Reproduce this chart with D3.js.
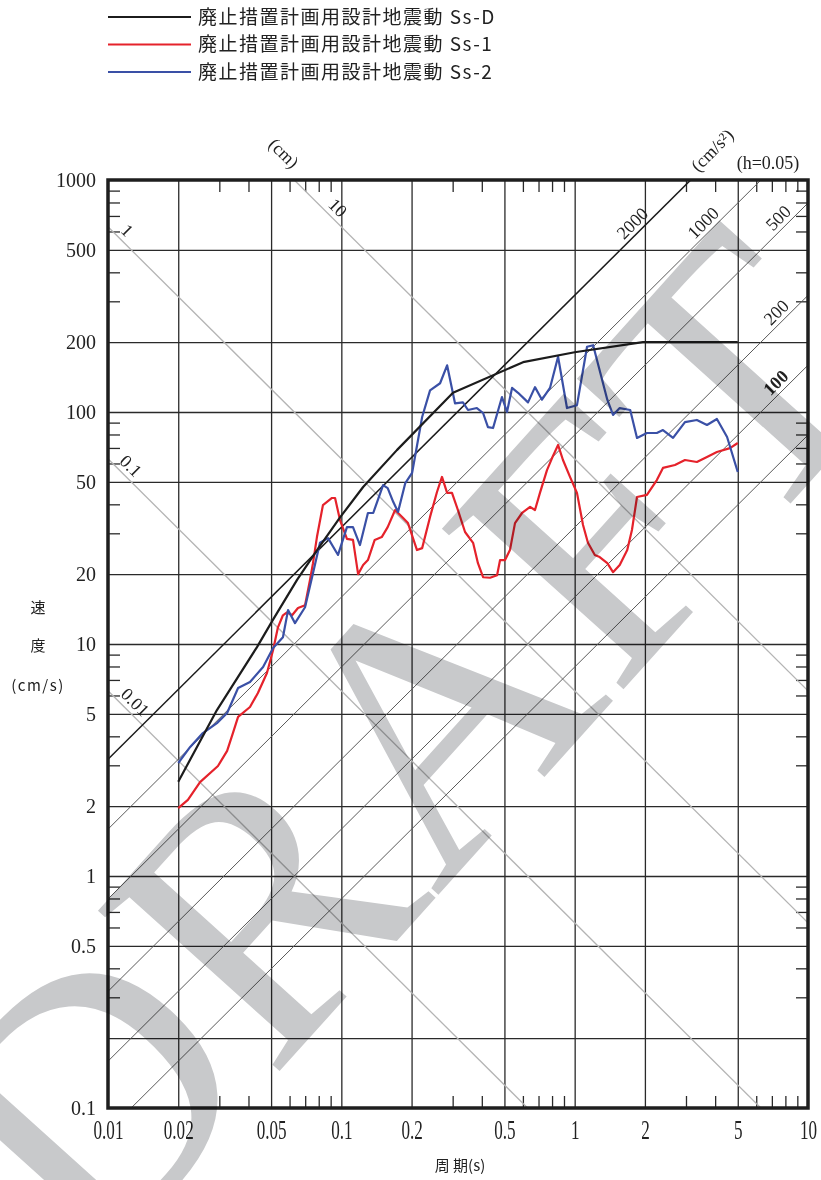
<!DOCTYPE html>
<html>
<head>
<meta charset="utf-8">
<script src="https://cdn.jsdelivr.net/npm/d3@7"></script>
<style>
  body { margin: 0; background: #fff; }
  svg { display: block; }
</style>
</head>
<body>
<svg id="chart" width="821" height="1180"></svg>
<script>
// ---- data ----
const periodTicks = [0.01, 0.02, 0.05, 0.1, 0.2, 0.5, 1, 2, 5, 10];
const periodLabels = ["0.01", "0.02", "0.05", "0.1", "0.2", "0.5", "1", "2", "5", "10"];
const velTicks = [1000, 500, 200, 100, 50, 20, 10, 5, 2, 1, 0.5, 0.1];
const velLabels = ["1000", "500", "200", "100", "50", "20", "10", "5", "2", "1", "0.5", "0.1"];
const minorMult = [3, 4, 6, 7, 8, 9];

// displacement (cm) and acceleration (cm/s2) guide lines
const dispValues = [0.01, 0.1, 1, 10];
const dispLabelT = [0.0121, 0.0116, 0.0112, 0.0894];
const accValues = [50, 100, 200, 500, 1000, 2000];
const accLabelT = [null, 7.4, 7.44, 7.59, 3.62, 1.8];

// 廃止措置計画用設計地震動 Ss-D
const ssD_T = [0.02, 0.0293, 0.0435, 0.0509, 0.0646, 0.0787, 0.0989, 0.124, 0.173, 0.301, 0.601, 1.0, 1.96, 5.0];
const ssD_V = [2.55, 5.19, 9.7, 12.7, 18.9, 25.4, 35.2, 47.5, 68.5, 121, 164, 181, 200, 200];

// Ss-1
const ss1_T = [0.02, 0.022, 0.0248, 0.0296, 0.0324, 0.0343, 0.0361, 0.0406, 0.0439, 0.048,
  0.051, 0.0535, 0.0562, 0.0585, 0.0615, 0.0652, 0.0699, 0.0734, 0.0756, 0.0786,
  0.0834, 0.0912, 0.094, 0.0987, 0.1057, 0.1122, 0.118, 0.124, 0.130, 0.139,
  0.149, 0.158, 0.170, 0.184, 0.193, 0.211, 0.222, 0.240, 0.257, 0.270,
  0.284, 0.298, 0.316, 0.339, 0.367, 0.385, 0.405, 0.434, 0.465, 0.479,
  0.503, 0.528, 0.555, 0.595, 0.644, 0.676, 0.710, 0.761, 0.80, 0.849,
  0.891, 0.955, 1.023, 1.086, 1.14, 1.22, 1.28, 1.38, 1.46, 1.56,
  1.68, 1.76, 1.85, 2.04, 2.25, 2.39, 2.69, 2.97, 3.34, 3.69,
  4.07, 4.63, 5.0];
const ss1_V = [1.96, 2.13, 2.54, 2.98, 3.46, 4.13, 4.85, 5.35, 6.15, 7.5,
  9.42, 11.8, 13.3, 13.7, 13.3, 14.3, 14.7, 18.9, 22.3, 28.9,
  39.7, 42.6, 42.6, 34.2, 28.4, 28.1, 20.0, 21.9, 23.0, 28.1,
  28.9, 31.9, 37.8, 34.9, 33.2, 25.4, 25.9, 35.3, 45.2, 52.5,
  44.8, 44.8, 37.8, 30.4, 27.3, 22.3, 19.4, 19.3, 19.8, 23.0,
  23.0, 25.4, 33.2, 36.7, 39.0, 37.8, 44.8, 56.2, 63.3, 72.1,
  62.1, 52.5, 44.8, 32.6, 27.3, 24.2, 23.7, 22.3, 20.4, 21.9,
  25.4, 31.0, 43.0, 43.9, 50.9, 57.4, 59.1, 62.1, 60.9, 64.0,
  67.2, 69.9, 73.5];

// Ss-2
const ss2_T = [0.02, 0.0225, 0.0255, 0.0293, 0.0324, 0.0361, 0.0406, 0.0462, 0.051, 0.0562,
  0.0591, 0.0633, 0.0699, 0.0756, 0.081, 0.0877, 0.0968, 0.1057, 0.1122, 0.1202,
  0.13, 0.137, 0.151, 0.158, 0.167, 0.175, 0.188, 0.201, 0.222, 0.24,
  0.265, 0.284, 0.307, 0.332, 0.349, 0.381, 0.405, 0.425, 0.447, 0.488,
  0.513, 0.539, 0.572, 0.631, 0.676, 0.724, 0.784, 0.849, 0.927, 1.023,
  1.13, 1.2, 1.38, 1.46, 1.56, 1.73, 1.85, 2.04, 2.25, 2.39,
  2.64, 2.97, 3.34, 3.69, 4.07, 4.5, 5.0];
const ss2_V = [3.07, 3.6, 4.13, 4.56, 5.04, 6.46, 6.86, 7.96, 9.61, 10.7,
  14.0, 12.3, 14.4, 20.2, 27.3, 28.6, 24.2, 31.9, 31.9, 26.7,
  36.7, 36.7, 48.4, 47.0, 40.9, 37.1, 49.4, 54.6, 95.1, 124,
  133, 159, 109, 110, 102, 104, 99, 86.1, 85.3, 116,
  100, 127, 121, 110, 128, 113, 127, 173, 104, 107,
  191, 194, 113, 97.1, 104, 102, 77.3, 81.2, 81.2, 83.6,
  77.3, 90.5, 92.4, 87.9, 93.3, 78.0, 55.1];

const seriesNames = ["廃止措置計画用設計地震動 Ss-D", "廃止措置計画用設計地震動 Ss-1", "廃止措置計画用設計地震動 Ss-2"];
const seriesColors = ["#1c1c1c", "#e5222b", "#3a50a6"];

// ---- layout ----
const svg = d3.select("#chart");
const L = 108, R = 808, T = 180, B = 1108;
const serif = "'Liberation Serif', 'DejaVu Serif', serif";
const cjk = "'Noto Sans CJK JP', 'Noto Sans CJK SC', sans-serif";

const x = d3.scaleLog().domain([0.01, 10]).range([L, R]);
const y = d3.scaleLog().domain([0.1, 1000]).range([B, T]);

svg.append("defs").append("clipPath").attr("id", "plot")
  .append("rect").attr("x", L).attr("y", T).attr("width", R - L).attr("height", B - T);

// grid lines
const gridX = svg.append("g").attr("transform", `translate(0,${B})`)
  .call(d3.axisBottom(x).tickValues(periodTicks.slice(1, -1)).tickSize(-(B - T)).tickFormat(""));
const gridY = svg.append("g").attr("transform", `translate(${L},0)`)
  .call(d3.axisLeft(y).tickValues([500, 200, 100, 50, 20, 10, 5, 2, 1, 0.5, 0.2]).tickSize(-(R - L)).tickFormat(""));
[gridX, gridY].forEach(g => {
  g.select(".domain").remove();
  g.selectAll("line").attr("stroke", "#2a2a2a").attr("stroke-width", 1.3);
});

// minor ticks inside frame
const minorX = [], minorY = [];
[0.01, 0.1, 1].forEach(d => minorMult.forEach(k => minorX.push(k * d)));
[0.1, 1, 10, 100].forEach(d => minorMult.forEach(k => minorY.push(k * d)));
const tickGroups = [
  svg.append("g").attr("transform", `translate(0,${B})`).call(d3.axisBottom(x).tickValues(minorX).tickSize(-12).tickFormat("")),
  svg.append("g").attr("transform", `translate(0,${T})`).call(d3.axisTop(x).tickValues(minorX).tickSize(-12).tickFormat("")),
  svg.append("g").attr("transform", `translate(${L},0)`).call(d3.axisLeft(y).tickValues(minorY).tickSize(-12).tickFormat("")),
  svg.append("g").attr("transform", `translate(${R},0)`).call(d3.axisRight(y).tickValues(minorY).tickSize(-12).tickFormat(""))
];
tickGroups.forEach(g => {
  g.select(".domain").remove();
  g.selectAll("line").attr("stroke", "#2a2a2a").attr("stroke-width", 1.3);
});

// diagonal guide lines
const guides = svg.append("g").attr("clip-path", "url(#plot)");
const tSpan = [0.01, 10];
const line = d3.line().x(d => x(d[0])).y(d => y(d[1]));
dispValues.forEach(D => {
  guides.append("path")
    .attr("d", line(tSpan.map(t => [t, 2 * Math.PI * D / t])))
    .attr("fill", "none").attr("stroke", "#b4b4b4").attr("stroke-width", 1.3);
});
accValues.forEach(A => {
  guides.append("path")
    .attr("d", line(tSpan.map(t => [t, A * t / (2 * Math.PI)])))
    .attr("fill", "none")
    .attr("stroke", A === 2000 ? "#1a1a1a" : "#5a5a5a")
    .attr("stroke-width", A === 2000 ? 1.5 : 1);
});

// guide labels
const guideLab = svg.append("g").attr("font-family", serif).attr("font-size", 18).attr("fill", "#222");
dispValues.forEach((D, i) => {
  const t = dispLabelT[i];
  const px = x(t), py = y(2 * Math.PI * D / t);
  guideLab.append("text")
    .attr("transform", `translate(${px + 8},${py - 8}) rotate(45)`)
    .attr("text-anchor", "middle").attr("dy", "0.35em")
    .text(D);
});
accValues.forEach((A, i) => {
  const t = accLabelT[i];
  if (t === null) return;
  const px = x(t), py = y(A * t / (2 * Math.PI));
  guideLab.append("text")
    .attr("transform", `translate(${px - 2},${py - 13}) rotate(-45)`)
    .attr("text-anchor", "middle").attr("dy", "0.35em")
    .attr("font-weight", A === 100 ? "bold" : null)
    .text(A);
});
guideLab.append("text").attr("transform", "translate(284,153) rotate(45)")
  .attr("text-anchor", "middle").attr("dy", "0.35em").text("(cm)");
guideLab.append("text").attr("transform", "translate(712,150) rotate(-45)")
  .attr("text-anchor", "middle").attr("dy", "0.35em").text("(cm/s²)");
guideLab.append("text").attr("x", 768).attr("y", 169)
  .attr("text-anchor", "middle").text("(h=0.05)");

// spectra
const curves = [[ssD_T, ssD_V], [ss1_T, ss1_V], [ss2_T, ss2_V]];
const curveG = svg.append("g");
[1, 2, 0].forEach(i => {
  const [ts, vs] = curves[i];
  curveG.append("path")
    .attr("d", line(ts.map((t, j) => [t, vs[j]])))
    .attr("fill", "none")
    .attr("stroke", seriesColors[i])
    .attr("stroke-width", 2.2)
    .attr("stroke-linejoin", "round");
});

// frame
svg.append("rect").attr("x", L).attr("y", T).attr("width", R - L).attr("height", B - T)
  .attr("fill", "none").attr("stroke", "#1e1e1e").attr("stroke-width", 3.5);

// axis labels
const xAx = svg.append("g").attr("transform", `translate(0,${B})`)
  .call(d3.axisBottom(x).tickValues(periodTicks).tickSize(0).tickFormat((d, i) => periodLabels[i]));
xAx.select(".domain").remove();
xAx.selectAll("text").attr("font-family", serif).attr("font-size", 19).attr("fill", "#222")
  .attr("dy", 0).attr("y", 22).attr("transform", "scale(0.9,1.4)");

const yAx = svg.append("g").attr("transform", `translate(${L - 12},0)`)
  .call(d3.axisLeft(y).tickValues(velTicks).tickSize(0).tickFormat((d, i) => velLabels[i]));
yAx.select(".domain").remove();
yAx.selectAll("text").attr("font-family", serif).attr("font-size", 20).attr("fill", "#222").attr("x", 0);

svg.append("text").attr("x", 460).attr("y", 1171).attr("text-anchor", "middle")
  .attr("font-family", cjk).attr("font-size", 15).attr("fill", "#222").text("周 期(s)");
const yTitle = svg.append("g").attr("font-family", cjk).attr("font-size", 15).attr("fill", "#222").attr("text-anchor", "middle");
yTitle.append("text").attr("x", 38).attr("y", 613).text("速");
yTitle.append("text").attr("x", 38).attr("y", 651).text("度");
yTitle.append("text").attr("x", 38).attr("y", 691).attr("letter-spacing", 1.5).text("(cm/s)");

// legend
const leg = svg.append("g");
seriesNames.forEach((name, i) => {
  const ly = 17 + i * 27.5;
  leg.append("line").attr("x1", 108).attr("x2", 191).attr("y1", ly).attr("y2", ly)
    .attr("stroke", seriesColors[i]).attr("stroke-width", 2.2);
  leg.append("text").attr("x", 198).attr("y", ly).attr("dy", "0.36em")
    .attr("font-family", cjk).attr("font-size", 19).attr("letter-spacing", 1.5).attr("fill", "#222")
    .text(name);
});

// watermark
svg.append("text")
  .attr("transform", "translate(405,745) rotate(-48)")
  .attr("text-anchor", "middle").attr("dominant-baseline", "central")
  .attr("font-family", serif).attr("font-size", 370)
  .attr("fill", "#c8c9cb")
  .style("mix-blend-mode", "multiply")
  .text("DRAFT");
</script>
</body>
</html>
